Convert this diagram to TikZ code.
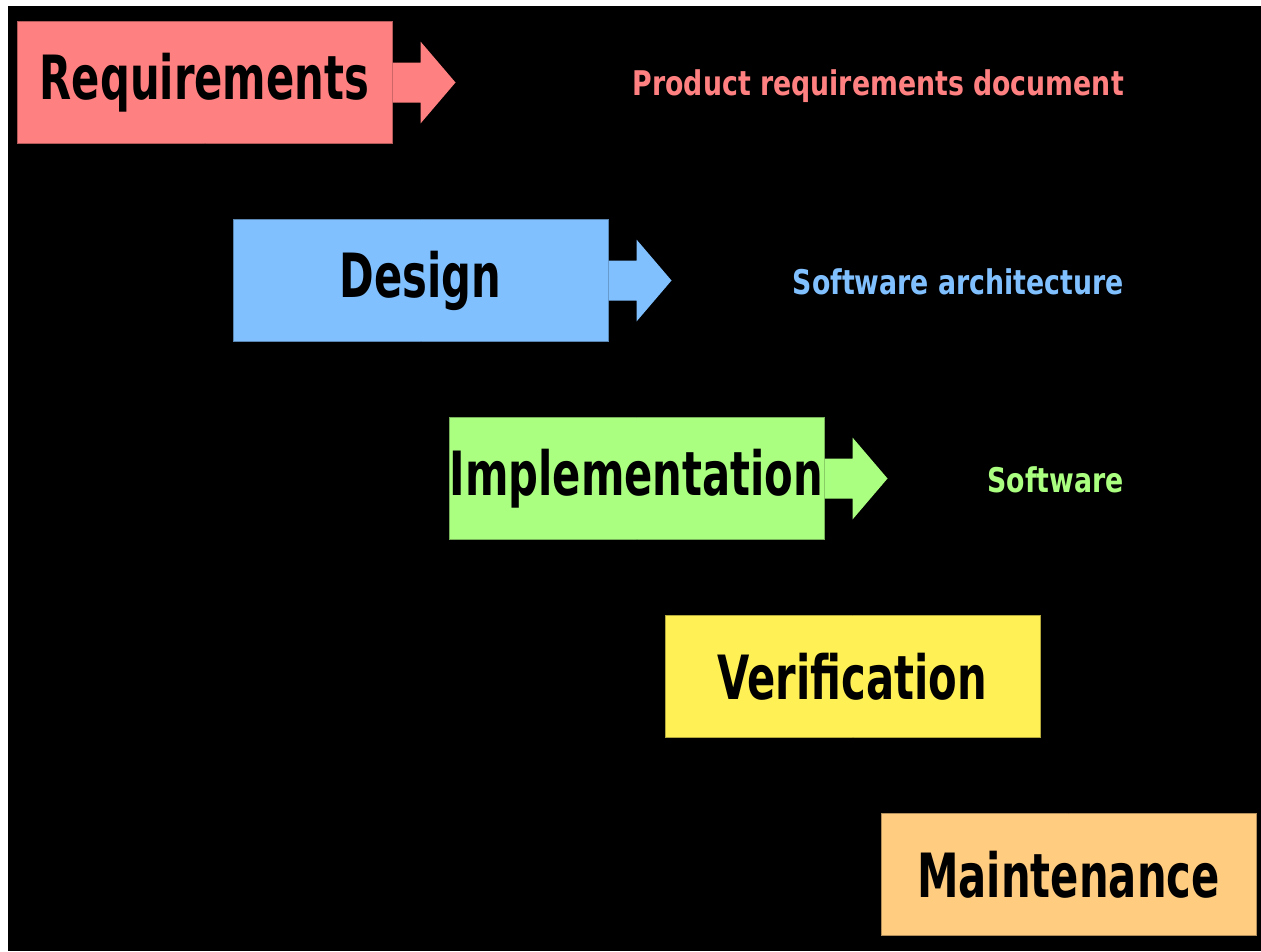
\documentclass[tikz,border=0pt]{standalone}
\usepackage{fontspec}
\setmainfont{DejaVu Sans Condensed}
\newfontfamily\phasefont{DejaVu Sans Condensed}[FakeStretch=0.76]
\newfontfamily\resultfont{DejaVu Sans Condensed}[FakeStretch=0.875]
\usetikzlibrary{positioning,calc}

\definecolor{reqcol}{HTML}{FF8080}
\definecolor{descol}{HTML}{80C0FF}
\definecolor{impcol}{HTML}{AAFF80}
\definecolor{vercol}{HTML}{FFF055}
\definecolor{maicol}{HTML}{FFCC80}

\tikzset{
  phase/.style={draw=#1!70!black,fill=#1,line width=1pt,text width=375pt,align=center,
    minimum height=122pt,inner sep=0pt,font=\phasefont\fontsize{61}{61}\selectfont\bfseries},
  result/.style={anchor=base east,inner sep=0pt,text=#1,
    font=\resultfont\fontsize{34}{34}\selectfont\bfseries},
  flow/.style={draw=black,line width=2pt,->}
}

% block arrow out of the right side of a phase
\newcommand{\outarrow}[2]{%
  \fill[#2] ($(#1.east)+(0,-20)$) -- ++(28,0) -- ++(0,-21) -- ++(35,41)
    -- ++(-35,41) -- ++(0,-21) -- ++(-28,0) -- cycle;}

\begin{document}
\begin{tikzpicture}[x=1pt,y=-1pt]
  \useasboundingbox (0,0) rectangle (1261,951);
  \fill[white] (0,0) rectangle (1261,951);
  \fill[black] (8,6) rectangle (1261,951);

  \node (req) [phase=reqcol] at (204.5,82.5) {Requirements};
  \node (des) [phase=descol,below right=75pt and -160pt of req.south east,anchor=north west] {Design};
  \node (imp) [phase=impcol,below right=75pt and -160pt of des.south east,anchor=north west] {Implementation};
  \node (ver) [phase=vercol,below right=75pt and -160pt of imp.south east,anchor=north west] {Verification};
  \node (mai) [phase=maicol,below right=75pt and -160pt of ver.south east,anchor=north west] {Maintenance};

  \outarrow{req}{reqcol}
  \outarrow{des}{descol}
  \outarrow{imp}{impcol}

  \node (prd) [result=reqcol] at (1124,95)  {Product requirements document};
  \node (arc) [result=descol] at (1124,294) {Software architecture};
  \node (sw)  [result=impcol] at (1124,492) {Software};

  % connectors (black on black)
  \draw [flow] (req.south) .. controls +(0,40) and +(0,-40) .. (des.north);
  \draw [flow] (des.south) .. controls +(0,40) and +(0,-40) .. (imp.north);
  \draw [flow] (imp.south) .. controls +(0,40) and +(0,-40) .. (ver.north);
  \draw [flow] (ver.south) .. controls +(0,40) and +(0,-40) .. (mai.north);
\end{tikzpicture}
\end{document}
